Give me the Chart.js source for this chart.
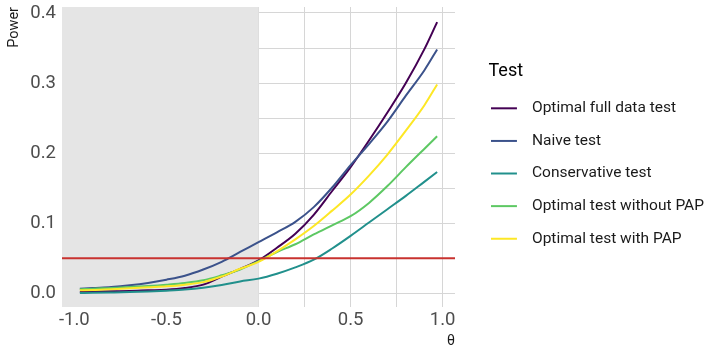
<!DOCTYPE html>
<html>
  <head>
    <title>Power curves</title>
    <script src="https://cdn.jsdelivr.net/npm/chart.js"></script>
    <style>
      html, body { margin: 0; padding: 0; background: #fff; }
      #wrap { width: 704px; height: 348px; }
    </style>
  </head>
  <body>
    <div id="wrap"><canvas id="powerChart"></canvas></div>

    <script>
      // theta grid and power of each test
      const theta = [-0.97, -0.9, -0.8, -0.7, -0.6, -0.5, -0.4, -0.3, -0.2, -0.1, 0,
                     0.1, 0.2, 0.3, 0.4, 0.5, 0.6, 0.7, 0.8, 0.9, 0.97];
      const fullData     = [0.0019, 0.0024, 0.003, 0.0033, 0.0043, 0.0052, 0.0076, 0.0124, 0.0238, 0.035, 0.047,
                            0.065, 0.085, 0.112, 0.146, 0.18, 0.218, 0.258, 0.30, 0.348, 0.387];
      const naive        = [0.0065, 0.0076, 0.009, 0.0114, 0.0148, 0.0195, 0.0252, 0.034, 0.045, 0.059, 0.073,
                            0.087, 0.102, 0.123, 0.151, 0.183, 0.213, 0.245, 0.282, 0.318, 0.348];
      const conservative = [0.0005, 0.0007, 0.0012, 0.0018, 0.0027, 0.0038, 0.0053, 0.008, 0.012, 0.017, 0.021,
                            0.028, 0.037, 0.048, 0.064, 0.082, 0.101, 0.12, 0.139, 0.159, 0.173];
      const withoutPap   = [0.0057, 0.0067, 0.0076, 0.009, 0.0105, 0.0124, 0.0148, 0.0186, 0.0257, 0.034, 0.046,
                            0.059, 0.070, 0.084, 0.097, 0.11, 0.129, 0.153, 0.18, 0.206, 0.224];
      const withPap      = [0.0043, 0.0048, 0.0057, 0.0071, 0.0086, 0.010, 0.0124, 0.016, 0.024, 0.035, 0.045,
                            0.060, 0.077, 0.096, 0.118, 0.141, 0.168, 0.198, 0.232, 0.268, 0.298];

      const testNames = ['Optimal full data test', 'Naive test', 'Conservative test',
                         'Optimal test without PAP', 'Optimal test with PAP'];
      const testColors = ['#440154', '#3B528B', '#21908C', '#5DC863', '#FDE725'];

      // axis breaks and labels
      const xBreaks = [-1, -0.75, -0.5, -0.25, 0, 0.25, 0.5, 0.75, 1];
      const xLabels = [-1, -0.5, 0, 0.5, 1];
      const yBreaks = [0, 0.05, 0.1, 0.15, 0.2, 0.25, 0.3, 0.35, 0.4];
      const yLabels = [0, 0.1, 0.2, 0.3, 0.4];

      const alphaLevel = 0.05;  // red reference line
      const nullEdge = 0;       // shaded region theta <= 0

      Chart.defaults.font.family = "Roboto, 'Liberation Sans', sans-serif";

      // legend key: short line, drawn a bit left of the label box
      function legendKey(color) {
        const c = document.createElement('canvas');
        c.width = 48; c.height = 4;
        const g = c.getContext('2d');
        g.fillStyle = color;
        g.fillRect(0, 1, 26, 2);
        return c;
      }

      const series = [fullData, naive, conservative, withoutPap, withPap];
      const datasets = series.map((vals, i) => ({
        label: testNames[i],
        data: theta.map((t, j) => ({ x: t, y: vals[j] })),
        borderColor: testColors[i],
        backgroundColor: testColors[i],
        borderWidth: 2,
        pointRadius: 0,
        pointStyle: legendKey(testColors[i]),
        cubicInterpolationMode: 'monotone',
        order: series.length - i   // later tests drawn on top, like ggplot
      }));

      const shadeNull = {
        id: 'shadeNull',
        beforeDatasetsDraw(chart) {
          const { ctx, chartArea, scales } = chart;
          const x0 = scales.x.getPixelForValue(nullEdge);
          ctx.save();
          ctx.fillStyle = '#e5e5e5';
          ctx.fillRect(chartArea.left, chartArea.top, x0 - chartArea.left, chartArea.bottom - chartArea.top);
          ctx.restore();
        }
      };

      const alphaLine = {
        id: 'alphaLine',
        afterDatasetsDraw(chart) {
          const { ctx, chartArea, scales } = chart;
          const y = scales.y.getPixelForValue(alphaLevel);
          ctx.save();
          ctx.strokeStyle = '#c8322f';
          ctx.lineWidth = 2;
          ctx.beginPath();
          ctx.moveTo(chartArea.left, y);
          ctx.lineTo(chartArea.right, y);
          ctx.stroke();
          ctx.restore();
        }
      };

      // move the legend away from the panel, like ggplot's legend spacing
      const shiftLegend = {
        id: 'shiftLegend',
        afterLayout(chart) {
          const lg = chart.legend;
          lg.left += 33.5;
          lg.right = chart.width;
          lg.width = lg.right - lg.left;
        }
      };

      new Chart(document.getElementById('powerChart'), {
        type: 'line',
        data: { datasets },
        options: {
          responsive: true,
          maintainAspectRatio: false,
          animation: false,
          events: [],
          layout: { padding: { top: 7, right: 69, bottom: 0, left: 0 } },
          plugins: {
            tooltip: { enabled: false },
            legend: {
              position: 'right',
              align: 'start',
              maxWidth: 180,
              title: {
                display: true, text: 'Test', position: 'start', color: '#000',
                font: { size: 18, lineHeight: 1 },
                padding: { top: 55, bottom: 3.45 }
              },
              labels: {
                usePointStyle: true,
                pointStyleWidth: 18.65,
                padding: 17.1,
                color: '#1a1a1a',
                font: { size: 15.5 },
                sort: (a, b) => a.datasetIndex - b.datasetIndex
              }
            }
          },
          scales: {
            x: {
              type: 'linear',
              min: -1.067,
              max: 1.067,
              afterBuildTicks: s => { s.ticks = xBreaks.map(v => ({ value: v })); },
              afterFit: s => { s.height = 41; s.paddingLeft = 0; s.paddingRight = 0; },
              ticks: {
                autoSkip: false, maxRotation: 0, padding: 2,
                color: '#4d4d4d', font: { size: 18.5 },
                callback: v => xLabels.includes(v) ? v.toFixed(1) : ''
              },
              grid: { color: '#d6d6d6', drawTicks: false },
              border: { display: false },
              title: {
                display: true, text: 'θ', align: 'end', color: '#1a1a1a',
                font: { size: 14, lineHeight: 1 }, padding: 0
              }
            },
            y: {
              min: -0.0195,
              max: 0.4085,
              afterBuildTicks: s => { s.ticks = yBreaks.map(v => ({ value: v })); },
              afterFit: s => { s.width = 62; s.paddingTop = 0; s.paddingBottom = 0; },
              ticks: {
                padding: 6, color: '#4d4d4d', font: { size: 18.5 },
                callback: v => yLabels.includes(v) ? v.toFixed(1) : ''
              },
              grid: { color: '#d6d6d6', drawTicks: false },
              border: { display: false },
              title: {
                display: true, text: 'Power', align: 'end', color: '#1a1a1a',
                font: { size: 14.5 }, padding: { top: 6, bottom: 0 }
              }
            }
          }
        },
        plugins: [shadeNull, alphaLine, shiftLegend]
      });
    </script>
  </body>
</html>
